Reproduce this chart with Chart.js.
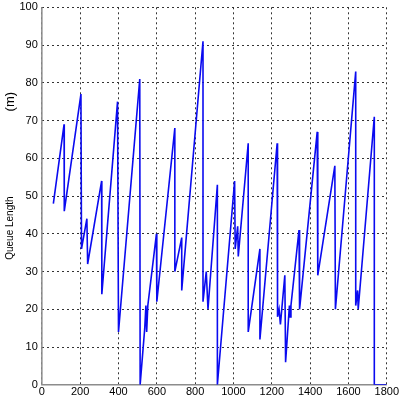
<!DOCTYPE html>
<html>
<head>
<meta charset="utf-8">
<script src="https://cdn.jsdelivr.net/npm/chart.js@4"></script>
<style>
  html, body { margin: 0; padding: 0; background: #fff; }
  #wrap { width: 400px; height: 400px; }
</style>
</head>
<body>
<div id="wrap"><canvas id="queueChart"></canvas></div>
<script>
// time (x) and queue length (y)
const timeSteps = [60, 116, 117, 204, 207, 235, 239, 312, 313, 395, 400, 511, 513, 537, 543, 547, 553, 598, 600,
  694, 694, 730, 730, 841, 841, 858, 867, 916, 916, 1006, 1009, 1022, 1025, 1077, 1077, 1138, 1138,
  1228, 1230, 1238, 1245, 1268, 1272, 1292, 1296, 1300, 1342, 1345, 1437, 1440, 1529, 1532,
  1638, 1638, 1648, 1651, 1735, 1735, 1800];
const queueLen = [48, 69, 46, 77, 36, 44, 32, 54, 24, 75, 14, 81, 0, 15, 21, 14, 21, 40, 22,
  68, 30, 39, 25, 91, 22, 30, 20, 53, 0, 54, 36, 42, 34, 64, 14, 36, 12,
  64, 18, 20, 16, 29, 6, 21, 18, 21, 41, 20, 67, 29, 58, 20,
  83, 21, 25, 20, 71, 0, 0];

const xTicks = [0, 200, 400, 600, 800, 1000, 1200, 1400, 1600, 1800];
const yTicks = [0, 10, 20, 30, 40, 50, 60, 70, 80, 90, 100];

const points = timeSteps.map((t, i) => ({ x: t, y: queueLen[i] }));

// gray axis lines (left + bottom) and the rotated y title
const axisPlugin = {
  id: 'axisDeco',
  beforeDatasetsDraw(chart) {
    const c = chart.ctx;
    const a = chart.chartArea;
    c.save();
    c.strokeStyle = '#8c8c8c';
    c.lineWidth = 1.5;
    c.beginPath();
    c.moveTo(a.left, a.top);
    c.lineTo(a.left, a.bottom);
    c.lineTo(a.right, a.bottom);
    c.stroke();
    c.restore();
  },
  afterDraw(chart) {
    const c = chart.ctx;
    const ys = chart.scales.y;
    c.save();
    c.fillStyle = '#000';
    c.textAlign = 'center';
    c.textBaseline = 'middle';
    c.translate(10, ys.getPixelForValue(41.5));
    c.rotate(-Math.PI / 2);
    c.font = '10px "Liberation Sans", Arial, sans-serif';
    c.fillText('Queue Length', 0, 0);
    c.restore();
    c.save();
    c.fillStyle = '#000';
    c.textAlign = 'center';
    c.textBaseline = 'middle';
    c.translate(10, ys.getPixelForValue(75));
    c.rotate(-Math.PI / 2);
    c.font = '13px "Liberation Sans", Arial, sans-serif';
    c.fillText('(m)', 0, 0);
    c.restore();
  }
};

const tickFont = { family: '"Liberation Sans", Arial, sans-serif', size: 11 };

new Chart(document.getElementById('queueChart'), {
  type: 'line',
  data: {
    datasets: [{
      data: points,
      borderColor: '#0a0af0',
      borderWidth: 1.6,
      pointRadius: 0,
      tension: 0,
      fill: false
    }]
  },
  options: {
    responsive: true,
    maintainAspectRatio: false,
    animation: false,
    layout: { padding: { left: 15.5, right: 0, top: 6, bottom: 0 } },
    plugins: { legend: { display: false }, tooltip: { enabled: false } },
    scales: {
      x: {
        type: 'linear',
        min: 0, max: 1800,
        afterBuildTicks: s => { s.ticks = xTicks.map(v => ({ value: v })); },
        ticks: { color: '#000', font: tickFont, padding: 1, maxRotation: 0, callback: v => String(v) },
        grid: { color: '#333', lineWidth: 1, drawTicks: false },
        border: { display: false, dash: [2, 3] }
      },
      y: {
        min: 0, max: 100,
        afterBuildTicks: s => { s.ticks = yTicks.map(v => ({ value: v })); },
        ticks: { color: '#000', font: { ...tickFont, lineHeight: 0.6 }, padding: 4, callback: v => String(v) },
        grid: { color: '#333', lineWidth: 1, drawTicks: false },
        border: { display: false, dash: [2, 3] }
      }
    }
  },
  plugins: [axisPlugin]
});
</script>
</body>
</html>
